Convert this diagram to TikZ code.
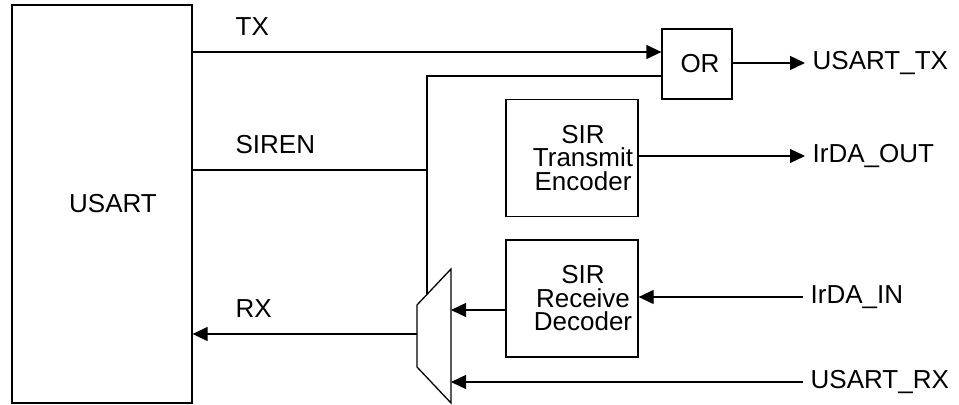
\documentclass[tikz,border=0pt]{standalone}
\usepackage{fontspec}
\setmainfont{Liberation Sans}
\usetikzlibrary{calc, arrows.meta}

\begin{document}
\begin{tikzpicture}[x=0.5pt, y=-0.5pt, line width=0.65pt,
    font=\fontsize{13}{11.75}\selectfont,
    blk/.style={draw, inner sep=0pt},
    intext/.style={align=center, xshift=5.5pt},
    sig/.style={-{Triangle[length=7.5pt, width=7pt]}},
    pin/.style={anchor=west, inner sep=3.5pt},
    wire/.style={anchor=base west, inner sep=0pt}]
  \useasboundingbox (0,0) rectangle (959,405);

  % blocks
  \node[blk, minimum width=90pt, minimum height=199pt,
        label={[intext]center:USART}] (usart) at (102,204) {};
  \node[blk, minimum width=35pt, minimum height=35pt,
        label={[intext, xshift=-4pt]center:OR}] (or) at (697,64) {};
  \node[blk, minimum width=66pt, minimum height=58.5pt,
        label={[intext]center:SIR\\Transmit\\Encoder}] (enc) at (572,158) {};
  \node[blk, minimum width=66pt, minimum height=58.5pt,
        label={[intext]center:SIR\\Receive\\Decoder}] (dec) at (572,298.5) {};

  % mux
  \coordinate (m1) at (417,305);
  \coordinate (m2) at (451,269);
  \coordinate (m3) at (451,403);
  \coordinate (m4) at (417,367);
  \draw (m1) -- (m2) -- (m3) -- (m4) -- cycle;
  \coordinate (sel) at ($(m1)!0.294!(m2)$);
  \coordinate (mrx) at (417,334);
  \coordinate (min1) at (451,310);
  \coordinate (min2) at (451,382);

  % OR inputs
  \coordinate (or1) at ($(or.west)+(0,-12)$);
  \coordinate (or2) at ($(or.west)+(0,12)$);
  \coordinate (jn) at (sel |- 0,170);

  % pins
  \node[pin] (utx) at (805,63) {USART\_TX};
  \node[pin] (irout) at (805,156) {IrDA\_OUT};
  \node[pin] (irin) at (803,297) {IrDA\_IN};
  \node[pin] (urx) at (803,382) {USART\_RX};

  % wires
  \draw[sig] (usart.east |- or1) -- (or1);
  \draw (usart.east |- jn) -- (jn);
  \draw (sel) -- (sel |- or2) -- (or2);
  \draw[sig] (mrx) -- (usart.east |- mrx);
  \draw[sig] (dec.west |- min1) -- (min1);
  \draw[sig] (urx.west) -- (min2);
  \draw[sig] (irin.west) -- (dec.east |- irin);
  \draw[sig] (enc.east |- irout) -- (irout.west);
  \draw[sig] (or.east |- utx) -- (utx.west);

  \node[wire] (lbltx) at (235,36) {TX};
  \node[wire] (lblsiren) at (235,154) {SIREN};
  \node[wire] (lblrx) at (235,318) {RX};
\end{tikzpicture}
\end{document}
